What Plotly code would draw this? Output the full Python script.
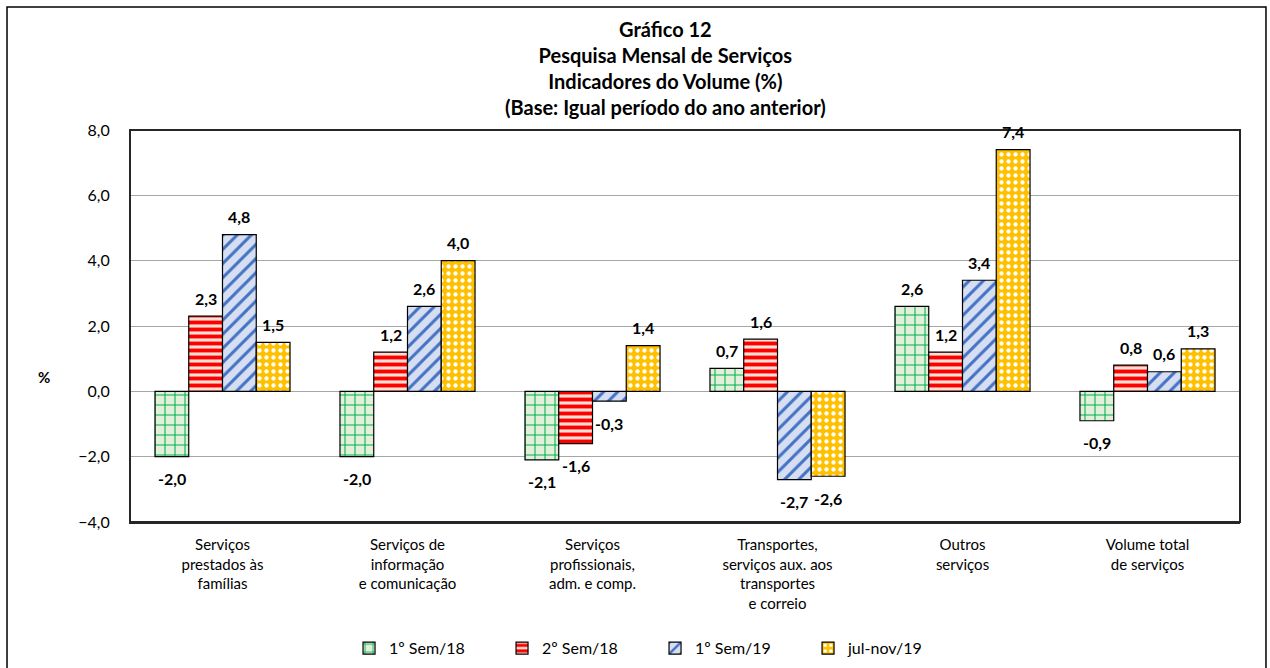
import plotly.graph_objects as go

categories = [
    "Serviços<br>prestados às<br>famílias",
    "Serviços de<br>informação<br>e comunicação",
    "Serviços<br>profissionais,<br>adm. e comp.",
    "Transportes,<br>serviços aux. aos<br>transportes<br>e correio",
    "Outros<br>serviços",
    "Volume total<br>de serviços",
]
sem1_18 = [-2.0, -2.0, -2.1, 0.7, 2.6, -0.9]
sem2_18 = [2.3, 1.2, -1.6, 1.6, 1.2, 0.8]
sem1_19 = [4.8, 2.6, -0.3, -2.7, 3.4, 0.6]
julnov_19 = [1.5, 4.0, 1.4, -2.6, 7.4, 1.3]

series = [
    ("1º Sem/18", sem1_18, dict(shape="+", fgcolor="#00B050", bgcolor="#E2F0D9", size=10, solidity=0.2)),
    ("2º Sem/18", sem2_18, dict(shape="-", fgcolor="#FF0000", bgcolor="#FBE0D6", size=7, solidity=0.55)),
    ("1º Sem/19", sem1_19, dict(shape="/", fgcolor="#4472C4", bgcolor="#D6DEF2", size=10, solidity=0.3)),
    ("jul-nov/19", julnov_19, dict(shape=".", fgcolor="#FFFFFF", bgcolor="#FFC000", size=7, solidity=0.3)),
]

plot_w = 1270 - 130 - 30
bargap = 0.27
bar_w = plot_w / len(categories) * (1 - bargap) / len(series)

fig = go.Figure()
for i, (name, vals, pat) in enumerate(series):
    fig.add_trace(go.Bar(
        x=categories,
        y=vals,
        name=name,
        marker=dict(color=pat["bgcolor"], pattern=dict(fillmode="replace", **pat),
                    line=dict(color="#000000", width=1.2)),
    ))
    # data labels, pushed a little further from the bar end like the original
    for cat, v in zip(categories, vals):
        fig.add_annotation(
            x=cat, y=v, xref="x", yref="y",
            xshift=(i - 1.5) * bar_w, yshift=18 if v >= 0 else -22,
            text="<b>" + f"{v:.1f}".replace(".", ",") + "</b>",
            showarrow=False, yanchor="middle",
            font=dict(family="Lato", size=16, color="#000000"),
        )

fig.update_layout(
    width=1270, height=668,
    separators=",.",
    barmode="group",
    bargap=bargap,
    bargroupgap=0,
    plot_bgcolor="white",
    paper_bgcolor="white",
    font=dict(family="Lato", size=15, color="#000000"),
    margin=dict(l=130, r=30, t=130, b=146, autoexpand=False),
    legend=dict(orientation="h", x=0.473, xanchor="center", y=-0.322, yanchor="middle",
                font=dict(family="Lato", size=16), traceorder="normal",
                entrywidth=108, itemwidth=30),
    showlegend=True,
)
fig.update_yaxes(
    range=[-4, 8], dtick=2, tickformat=".1f",
    showgrid=True, gridcolor="#A6A6A6", gridwidth=1,
    zeroline=True, zerolinecolor="#A6A6A6", zerolinewidth=1,
    showline=True, linecolor="#808080", linewidth=1,
    ticks="", tickfont=dict(size=16), ticklabelstandoff=16, automargin=False,
)
fig.update_xaxes(showline=True, linecolor="#262626", linewidth=2, ticks="",
                 tickfont=dict(size=15), ticklabelstandoff=8, automargin=False)

# plot area frame (top/right) and outer chart border
fig.add_shape(type="rect", xref="paper", yref="paper", x0=0, x1=1, y0=0, y1=1,
              line=dict(color="#262626", width=2), layer="above")
fig.add_shape(type="rect", xref="paper", yref="paper", x0=-0.1108, x1=1.0234, y0=-0.385, y1=1.3138,
              line=dict(color="#000000", width=1.5))
fig.add_annotation(
    text="<b>Gráfico 12<br>Pesquisa Mensal de Serviços<br>Indicadores do Volume (%)<br>(Base: Igual período do ano anterior)</b>",
    xref="paper", yref="paper", x=0.482, y=1.158, xanchor="center", yanchor="middle",
    showarrow=False, font=dict(family="Lato", size=20))
fig.add_annotation(text="<b>%</b>", xref="paper", yref="paper", x=-0.085, y=0.37,
                   showarrow=False, font=dict(size=15))

fig.write_html("out.html", config={"displayModeBar": False},
               post_script="document.body.style.margin='0';")
